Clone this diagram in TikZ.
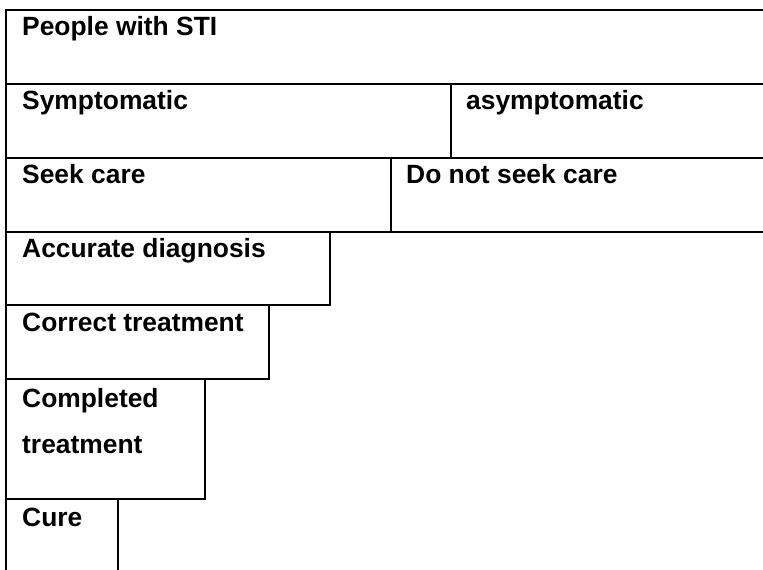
\documentclass[tikz,border=0pt]{standalone}
\usepackage{fontspec}
\setmainfont{Liberation Sans}
\tikzset{rule/.style={line width=2.4pt},
  lbl/.style={anchor=base west,inner sep=0pt,align=left,
    font=\bfseries\fontsize{26.4}{46}\selectfont}}

\begin{document}
\begin{tikzpicture}[x=1pt,y=-1pt]
\useasboundingbox (0,0) rectangle (763,570);

\pgfmathsetmacro{\xl}{6}
\pgfmathsetmacro{\xr}{763}
\pgfmathsetmacro{\xt}{22}
  \draw[rule](\xr,10)--(\xl,10)--(\xl,570);
  \draw[rule](\xl,84)--(\xr,84);
  \draw[rule](\xl,158)--(\xr,158);
  \draw[rule](\xl,232)--(\xr,232);
  \draw[rule](451,84)--(451,158);
  \draw[rule](391,158)--(391,232);
  \draw[rule](\xl,305)--(330,305)--(330,232);
  \draw[rule](\xl,379)--(269,379)--(269,305);
  \draw[rule](\xl,499)--(205,499)--(205,379);
  \draw[rule](118,570)--(118,499);

  \node[lbl] (sti) at (\xt,35) {People with STI};
  \node[lbl] (sym) at (\xt,109) {Symptomatic};
  \node[lbl] (asym) at (466,109) {asymptomatic};
  \node[lbl] (seek) at (\xt,183) {Seek care};
  \node[lbl] (noseek) at (406,183) {Do not seek care};
  \node[lbl] (diag) at (\xt,257) {Accurate diagnosis};
  \node[lbl] (treat) at (\xt,331) {Correct treatment};
  \node[lbl] (done) at (\xt,453) {Completed\\treatment};
  \node[lbl] (cure) at (\xt,526) {Cure};

  \end{tikzpicture}
\end{document}
